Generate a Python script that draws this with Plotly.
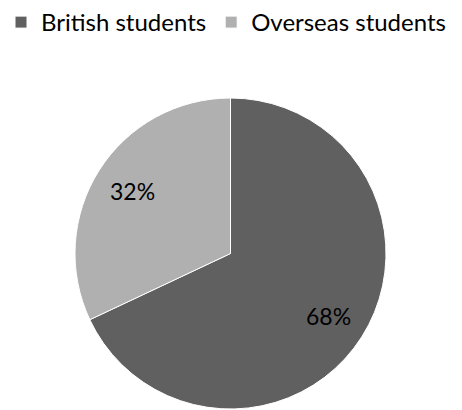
import math
import plotly.graph_objects as go

labels = ["British students", "Overseas students"]
values = [68, 32]
colors = ["#606060", "#b0b0b0"]

W, H = 462, 410
# pie box in pixels (left, right, top, bottom)
px_l, px_r, px_t, px_b = 75, 386, 98, 409
cx = (px_l + px_r) / 2
cy = (px_t + px_b) / 2
R = (px_r - px_l) / 2
k = 0.75

fig = go.Figure()
fig.add_trace(go.Pie(
    labels=labels,
    values=values,
    sort=False,
    direction="clockwise",
    rotation=0,
    marker=dict(colors=colors, line=dict(color="white", width=1)),
    textinfo="none",
    domain=dict(x=[px_l / W, px_r / W], y=[1 - px_b / H, 1 - px_t / H]),
    hoverinfo="label+percent",
))

total = sum(values)
cum = 0
annotations = []
for v in values:
    theta = 2 * math.pi * (cum + v / 2) / total
    cum += v
    x_px = cx + k * R * math.sin(theta)
    y_px = cy - k * R * math.cos(theta)
    annotations.append(dict(
        x=x_px / W, y=1 - y_px / H, xref="paper", yref="paper",
        text=f"{round(100 * v / total)}%", showarrow=False,
        xanchor="center", yanchor="middle",
        font=dict(family="Lato", size=23, color="#000000"),
    ))

fig.update_layout(
    width=W, height=H,
    margin=dict(l=0, r=0, t=0, b=0),
    paper_bgcolor="white",
    plot_bgcolor="white",
    font=dict(family="Lato", size=24, color="#000000"),
    legend=dict(orientation="h", x=1 / W, xanchor="left", y=1.0, yanchor="top",
                font=dict(family="Lato", size=24, color="#000000"),
                itemwidth=30, tracegroupgap=0),
    annotations=annotations,
    showlegend=True,
)
fig.write_html("out.html",
               config={"displayModeBar": False},
               post_script="document.body.style.margin='0';document.body.style.padding='0';document.body.style.overflow='hidden';")
